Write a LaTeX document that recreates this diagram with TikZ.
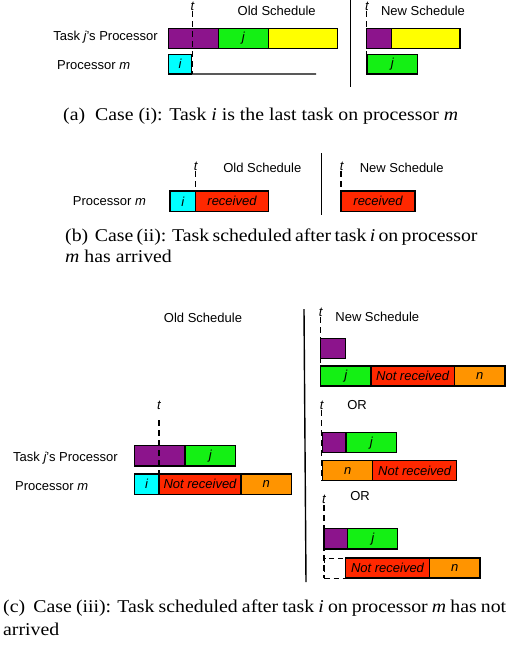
\documentclass[tikz,border=0pt]{standalone}
\usepackage{fontspec}
\setmainfont{Liberation Serif}
\setsansfont{Liberation Sans}
\newfontfamily\capfont[FakeStretch=1.1]{Liberation Serif}
\definecolor{cPurple}{RGB}{140,20,140}
\definecolor{cGreen}{RGB}{20,240,20}
\definecolor{cYellow}{RGB}{255,255,0}
\definecolor{cCyan}{RGB}{0,255,255}
\definecolor{cRed}{RGB}{255,40,0}
\definecolor{cOrange}{RGB}{255,148,0}
\newcommand\taskbox[7]{\node[tb, fill=#6, minimum width={#4-#2}, minimum height={#5-#3}, anchor=north west] (#1) at (#2,#3) {#7};}
\tikzset{
  tb/.style={draw=black, line width=1.3pt, inner sep=0pt, outer sep=0pt, font=\sffamily\itshape\fontsize{13}{15}\selectfont},
  lbl/.style={inner sep=0pt, font=\sffamily\fontsize{13}{15}\selectfont},
  tlbl/.style={inner sep=0pt, font=\sffamily\itshape\fontsize{13}{15}\selectfont},
  tline/.style={line width=1.4pt, dash pattern=on 6pt off 4pt},
  sepline/.style={line width=1.4pt},
  captxt/.style={inner sep=0pt, anchor=base west, font=\capfont\fontsize{18}{21}\selectfont},
}
\begin{document}
\begin{tikzpicture}[x=1pt,y=-1pt]
\useasboundingbox (0,0) rectangle (522,646);
% ---------- (a)
\node[tlbl] (ta1) at (192.5,6) {t};
\coordinate (ta1b) at (192.5,74);
\node[lbl] (olda) at (276.7,11) {Old Schedule};
\node[lbl, anchor=east] (tjpa) at (158,37) {Task {\itshape j}’s Processor};
\taskbox{pa1}{168.3}{28.3}{218.3}{48.3}{cPurple}{}
\taskbox{ga1}{218.3}{28.3}{268.3}{48.3}{cGreen}{j}
\taskbox{ya1}{268.3}{28.3}{337.7}{48.3}{cYellow}{}
\node[lbl, anchor=west] (pma) at (57,65) {Processor {\itshape m}};
\taskbox{ca1}{168.3}{54.3}{191.7}{74}{cCyan}{i}
\coordinate (lnend) at (316,74);
\draw[line width=1.3pt] (ca1.south east) -- (lnend);
\draw[tline] (192.5,11) -- (ta1b);
\coordinate (sa1) at (350.7,0);
\coordinate (sa2) at (350.7,87);
\draw[sepline] (sa1) -- (sa2);
\node[tlbl] (ta2) at (367,6) {t};
\node[lbl] (newa) at (423,11) {New Schedule};
\taskbox{pa2}{366.7}{28.3}{391.7}{48.3}{cPurple}{}
\taskbox{ya2}{391.7}{28.3}{460}{48.3}{cYellow}{}
\taskbox{ga2}{367}{54.3}{417.7}{74}{cGreen}{j}
\coordinate (ta2b) at (366.7,74);
\draw[tline] (366.7,11) -- (ta2b);
\node[captxt] (capa) at (63,120.5) {(a)\ \ Case (i): Task \textit{i} is the last task on processor \textit{m}};
% ---------- (b)
\node[tlbl] (tb1) at (195.7,166) {t};
\node[lbl] (oldb) at (262.3,168) {Old Schedule};
\node[lbl, anchor=west] (pmb) at (72.7,201) {Processor {\itshape m}};
\taskbox{cb1}{170}{191}{195.7}{211.7}{cCyan}{i}
\taskbox{rb1}{195.7}{191}{268.3}{211.7}{cRed}{received}
\coordinate (tb1b) at (195.7,212);
\draw[tline] (195.7,171) -- (tb1b);
\coordinate (sb1) at (321.7,153);
\coordinate (sb2) at (321.7,215);
\draw[sepline] (sb1) -- (sb2);
\node[tlbl] (tb2) at (341.7,166) {t};
\node[lbl] (newb) at (401.7,168) {New Schedule};
\taskbox{rb2}{341}{191}{415}{211.7}{cRed}{received}
\coordinate (tb2b) at (341,212);
\draw[tline] (341,171) -- (tb2b);
\node[captxt] (capb1) at (65,241.7) {\makebox[401pt][s]{(b)\ \ Case (ii): Task scheduled after task \textit{i} on processor}};
\node[captxt] (capb2) at (65,262.3) {\textit{m} has arrived};
% ---------- (c)
\node[lbl] (oldc) at (203,318) {Old Schedule};
\node[tlbl] (tc1) at (159,405) {t};
\node[lbl, anchor=west] (tjpc) at (13,458) {Task {\itshape j}’s Processor};
\taskbox{pc1}{134.3}{445.7}{185}{466}{cPurple}{}
\taskbox{gc1}{185}{445.7}{235.7}{466}{cGreen}{j}
\node[lbl, anchor=west] (pmc) at (15,486) {Processor {\itshape m}};
\taskbox{cc1}{134.3}{474}{159}{494.3}{cCyan}{i}
\taskbox{rc1}{159}{474}{241}{494.3}{cRed}{Not received}
\taskbox{oc1}{241}{474}{291.7}{494.3}{cOrange}{n}
\coordinate (tc1b) at (159,492);
\draw[tline] (159,420) -- (tc1b);
\coordinate (sc1) at (304,309);
\coordinate (sc2) at (306,582);
\draw[sepline] (sc1) -- (sc2);
% option 1
\node[tlbl] (tc2) at (320.7,312) {t};
\node[lbl] (newc) at (377.3,317) {New Schedule};
\taskbox{pc2}{320.7}{338.3}{345.7}{358.3}{cPurple}{}
\taskbox{gc2}{320.7}{366}{371}{386}{cGreen}{j}
\taskbox{rc2}{371}{366}{454.3}{386}{cRed}{Not received}
\taskbox{oc2}{454.3}{366}{505}{386}{cOrange}{n}
\coordinate (tc2b) at (320.7,386);
\draw[tline] (320.7,317) -- (tc2b);
% option 2
\node[tlbl] (tc3) at (321.7,405) {t};
\node[lbl] (or1) at (357,405) {OR};
\taskbox{pc3}{322.7}{432.7}{346}{452.7}{cPurple}{}
\taskbox{gc3}{346}{432.7}{396.7}{452.7}{cGreen}{j}
\taskbox{oc3}{322.7}{460.7}{372.7}{480.7}{cOrange}{n}
\taskbox{rc3}{372.7}{460.7}{456.7}{480.7}{cRed}{Not received}
\coordinate (tc3b) at (321.7,481);
\draw[tline] (321.7,410) -- (tc3b);
% option 3
\node[tlbl] (tc4) at (324,499.3) {t};
\node[lbl] (or2) at (360,496) {OR};
\taskbox{pc4}{324}{528.3}{347.7}{549}{cPurple}{}
\taskbox{gc4}{347.7}{528.3}{397.7}{549}{cGreen}{j}
\node[draw=black, line width=1.3pt, dash pattern=on 5pt off 4pt, fill=white, inner sep=0pt, minimum width=21.7pt, minimum height=20pt, anchor=north west] (wc4) at (324,558) {};
\taskbox{rc4}{345.7}{558}{429.3}{578}{cRed}{Not received}
\taskbox{oc4}{429.3}{558}{480}{578}{cOrange}{n}
\coordinate (tc4b) at (324,578);
\draw[tline] (324,505) -- (tc4b);
\node[captxt] (capc1) at (3,612.7) {\makebox[503pt][s]{(c)\ \ Case (iii): Task scheduled after task \textit{i} on processor \textit{m} has not}};
\node[captxt] (capc2) at (3,635) {arrived};
\end{tikzpicture}
\end{document}
